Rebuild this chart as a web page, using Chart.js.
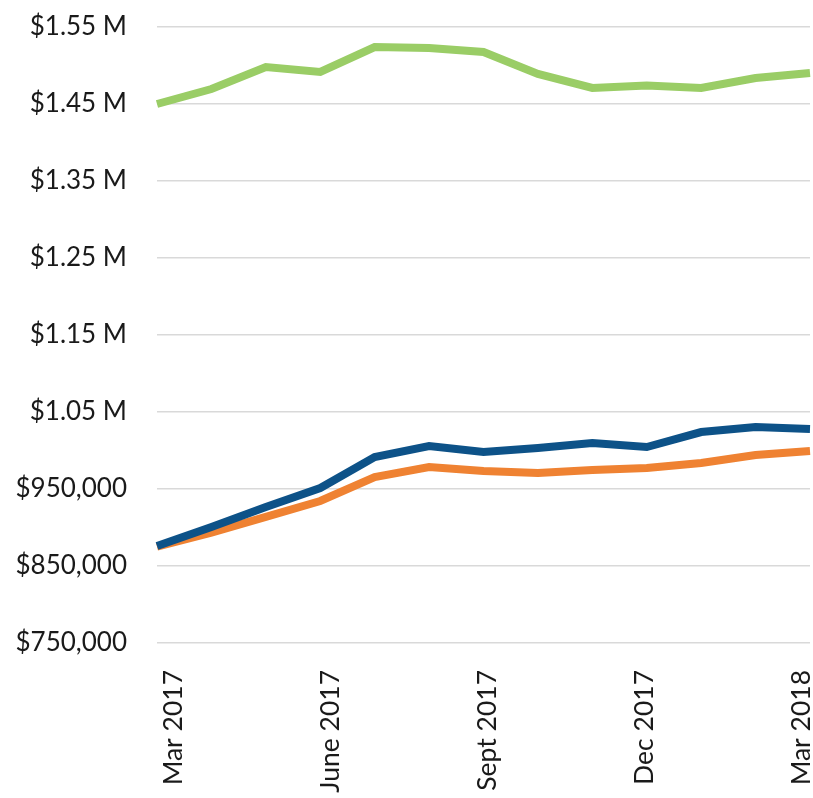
<!DOCTYPE html>
<html>
<head>
<meta charset="utf-8">
<script src="https://cdn.jsdelivr.net/npm/chart.js@4/dist/chart.umd.min.js"></script>
<style>
  html, body { margin: 0; padding: 0; background: #ffffff; }
  #wrap { width: 813px; height: 798px; }
</style>
</head>
<body>
<div id="wrap"><canvas id="c" width="813" height="798"></canvas></div>
<script>
// Months (categories)
const categories = ['Mar 2017','Apr 2017','May 2017','June 2017','July 2017','Aug 2017','Sept 2017','Oct 2017','Nov 2017','Dec 2017','Jan 2018','Feb 2018','Mar 2018'];
// Tick labels shown on x-axis (quarterly), indexed by month position
const xTickLabels = ['Mar 2017','','','June 2017','','','Sept 2017','','','Dec 2017','','','Mar 2018'];
const xTickPositions = [0, 3, 6, 9, 12];
// Series values
const greenSeries  = [1450000,1469500,1498000,1491600,1524000,1522700,1517500,1489000,1470800,1474000,1470800,1483800,1490300];
const blueSeries   = [876000,900600,926600,951300,991600,1005800,998000,1003300,1009700,1004500,1024000,1030500,1027900];
const orangeSeries = [875300,893400,913800,934400,965600,978600,973400,970800,974700,977300,983800,994200,999300];
// Y tick values
const yTicks = [750000,850000,950000,1050000,1150000,1250000,1350000,1450000,1550000];

function fmtY(v) {
  if (v >= 1000000) return '$' + (v / 1000000).toFixed(2) + ' M';
  return '$' + v.toLocaleString('en-US');
}

const FONT = 'Lato, "Open Sans", sans-serif';

new Chart(document.getElementById('c'), {
  type: 'line',
  data: {
    labels: categories,
    datasets: [
      { label: 'Green', data: greenSeries, borderColor: '#9acd66', borderWidth: 8, pointRadius: 0, tension: 0, fill: false },
      { label: 'Blue', data: blueSeries, borderColor: '#0d5288', borderWidth: 8, pointRadius: 0, tension: 0, fill: false },
      { label: 'Orange', data: orangeSeries, borderColor: '#ef8232', borderWidth: 8, pointRadius: 0, tension: 0, fill: false }
    ]
  },
  options: {
    responsive: false,
    animation: false,
    devicePixelRatio: 1,
    layout: { padding: { top: 27, right: 3, bottom: 0, left: 0 } },
    plugins: { legend: { display: false }, tooltip: { enabled: false } },
    scales: {
      x: {
        display: false,
        offset: false
      },
      x2: {
        type: 'linear',
        position: 'bottom',
        min: -0.306,
        max: 12.172,
        afterBuildTicks: function(axis) { axis.ticks = xTickPositions.map(v => ({ value: v })); },
        afterFit: function(scale) { scale.height = 155; scale.paddingLeft = 0; scale.paddingRight = 0; },
        grid: { display: false, drawTicks: false },
        border: { display: false },
        ticks: {
          autoSkip: false,
          maxRotation: 90,
          minRotation: 90,
          padding: 27,
          color: '#1a1a1a',
          font: { family: FONT, size: 26.5 },
          callback: function(val) { return xTickLabels[Math.round(val)] || ''; }
        }
      },
      y: {
        min: 750000,
        max: 1550000,
        afterBuildTicks: function(axis) { axis.ticks = yTicks.map(v => ({ value: v })); },
        afterFit: function(scale) { scale.width = 157; scale.paddingTop = 0; scale.paddingBottom = 0; },
        grid: { color: '#d9d9d9', lineWidth: 1.5, drawTicks: false },
        border: { display: false },
        ticks: {
          padding: 30,
          color: '#1a1a1a',
          font: { family: FONT, size: 26 },
          callback: function(v) { return fmtY(v); }
        }
      }
    }
  }
});
</script>
</body>
</html>
